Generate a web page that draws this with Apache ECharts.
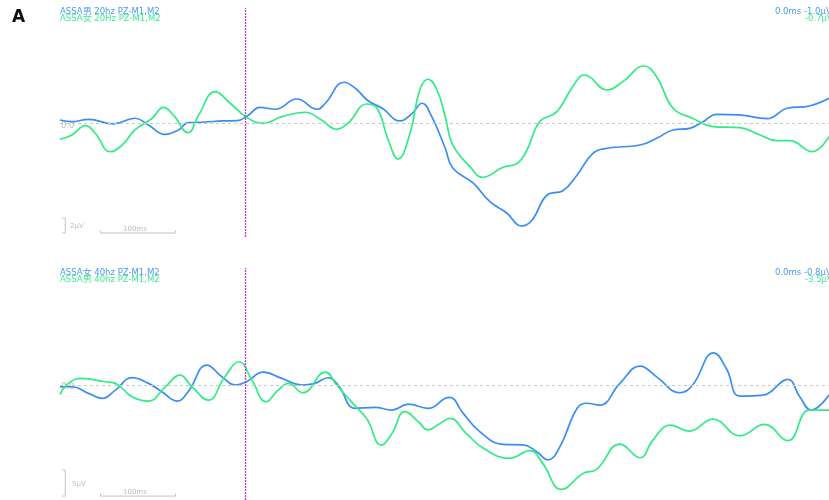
<!DOCTYPE html>
<html><head><meta charset="utf-8">
<script src="https://cdn.jsdelivr.net/npm/echarts@6/dist/echarts.min.js"></script>
<style>html,body{margin:0;padding:0;background:#fff}#c{width:829px;height:500px}</style>
</head><body><div id="c"></div>
<script>
// time (ms), amplitude (μV)
const topBlue = [[-247,0.4],[-231,0.17],[-209,0.49],[-176,-0.13],[-147,0.63],[-129,-0.27],[-107,-1.51],[-89,-0.93],[-76,0.04],[-53,0.13],[-31,0.27],[-11,0.31],[3,0.93],[20,2.09],[40,1.83],[69,3.2],[96,1.83],[107,2.63],[132,5.43],[147,4.63],[164,2.97],[183,1.96],[207,0.27],[223,1.29],[236,2.63],[249,0.84],[267,-3.37],[277,-6.0],[304,-8.0],[327,-10.53],[349,-12.0],[369,-13.73],[383,-12.93],[403,-9.6],[424,-9.03],[443,-6.93],[464,-4.04],[483,-3.37],[527,-2.93],[549,-2.04],[571,-0.93],[593,-0.71],[611,0.17],[629,1.16],[660,1.07],[696,0.57],[723,1.96],[753,2.27],[779,3.29]];
const topGreen = [[-247,-2.17],[-231,-1.6],[-213,-0.36],[-200,-1.37],[-180,-3.83],[-164,-2.93],[-147,-0.93],[-124,0.63],[-109,2.09],[-96,1.07],[-76,-1.29],[-62,1.07],[-40,4.17],[-20,2.63],[2,0.76],[24,-0.04],[49,0.84],[80,1.43],[102,0.4],[122,-0.84],[138,0.04],[162,2.53],[176,1.96],[191,-2.27],[204,-4.8],[220,-1.37],[233,4.4],[244,5.83],[256,4.4],[267,0.84],[277,-2.93],[300,-5.82],[317,-7.24],[344,-5.91],[363,-5.38],[376,-3.6],[393,0.17],[416,1.51],[437,4.84],[453,6.4],[483,4.4],[504,5.51],[532,7.6],[549,6.17],[571,1.96],[597,0.63],[624,-0.49],[660,-0.63],[687,-1.6],[709,-2.36],[727,-2.36],[756,-3.83],[779,-1.83]];
const botBlue = [[-247,-0.23],[-231,-0.23],[-209,-1.5],[-191,-2.46],[-173,-0.87],[-151,1.52],[-129,0.42],[-111,-1.19],[-91,-2.98],[-76,-1.19],[-51,3.94],[-31,1.69],[-13,0.1],[2,0.73],[24,2.6],[49,1.38],[76,0.1],[93,0.42],[111,1.5],[124,0.1],[147,-4.38],[173,-4.19],[196,-4.71],[218,-3.56],[244,-4.38],[267,-2.46],[273,-2.27],[291,-5.35],[313,-8.86],[344,-11.29],[371,-11.4],[389,-12.71],[404,-14.29],[420,-11.73],[443,-4.36],[456,-3.4],[473,-3.75],[500,0.42],[527,3.75],[549,1.67],[580,-1.38],[597,0.1],[625,6.3],[642,3.29],[660,-2.02],[691,-1.83],[724,1.19],[740,-2.15],[755,-4.71],[779,-1.83]];
const botGreen = [[-247,-1.69],[-236,0.42],[-218,1.38],[-187,0.73],[-173,0.42],[-151,-2.15],[-129,-2.98],[-107,-0.35],[-87,2.02],[-71,-0.23],[-49,-2.79],[-27,1.69],[-8,4.58],[9,1.06],[28,-3.11],[44,-0.87],[58,0.42],[77,-1.38],[107,2.6],[122,0.1],[147,-3.94],[162,-6.31],[182,-11.44],[196,-9.19],[213,-5.0],[231,-6.92],[244,-8.52],[260,-7.27],[273,-6.31],[295,-9.19],[318,-12.07],[353,-13.98],[380,-12.52],[397,-14.96],[422,-19.96],[451,-16.88],[469,-16.11],[500,-11.25],[527,-13.88],[544,-10.48],[567,-7.6],[593,-8.75],[624,-6.44],[660,-9.65],[693,-7.47],[724,-10.6],[753,-4.71],[779,-4.71]];
const topLabels = ['ASSA男 20hz PZ-M1,M2', 'ASSA女 20Hz PZ-M1,M2'];
const botLabels = ['ASSA女 40hz PZ-M1,M2', 'ASSA男 40hz PZ-M1,M2'];
const topCursor = ['0.0ms -1.0μV', '-0.7μV'];
const botCursor = ['0.0ms -0.8μV', '-3.5μV'];
const timeBarMs = 100;
const topAmpBar = 2, botAmpBar = 5;

const BLUE = '#3a8ef2', GREEN = '#30ec84', PURPLE = '#c03ad0', GRAY = '#c9c9c9';
const xMin = -247, xMax = 779;
const topY = [-15.2, 15.33], botY = [-22.0, 22.6];

const tBarStart = -193;
const topBarY = -14.67, botBarY = -21.25;
const brX = -240;
function barSeries(xi, y0, amp) {
  const tick = (xi === 0 ? 0.35 : 0.5);
  return [
    {type:'line', xAxisIndex:xi, yAxisIndex:xi, symbol:'none', silent:true,
      lineStyle:{color:'#c4c4c4', width:1},
      data:[[brX-4, y0+amp],[brX, y0+amp],[brX, y0],[brX-4, y0]]},
    {type:'line', xAxisIndex:xi, yAxisIndex:xi, symbol:'none', silent:true,
      lineStyle:{color:'#c4c4c4', width:1},
      data:[[tBarStart, y0+tick],[tBarStart, y0],[tBarStart+timeBarMs, y0],[tBarStart+timeBarMs, y0+tick]]}
  ];
}

const chart = echarts.init(document.getElementById('c'), null, {renderer:'canvas'});
const F = 'DejaVu Sans';
function txt(x, y, s, color, size, extra) {
  return {type:'text', left:x, top:y, silent:true,
    style:{text:s, fill:color, font:(extra||'') + ' ' + size + 'px "' + F + '"'}};
}
function guides() {
  return {silent:true, symbol:'none', label:{show:false}, animation:false,
    data:[{yAxis:0, lineStyle:{color:GRAY, type:[3,3], width:1.2}},
          {xAxis:0, lineStyle:{color:PURPLE, type:[2,1], width:1.3}}]};
}
chart.setOption({
  animation:false,
  backgroundColor:'#fff',
  grid:[
    {left:60, right:0, top:8, height:229},
    {left:60, right:0, top:268, height:232}
  ],
  xAxis:[
    {gridIndex:0, type:'value', min:xMin, max:xMax, show:false},
    {gridIndex:1, type:'value', min:xMin, max:xMax, show:false}
  ],
  yAxis:[
    {gridIndex:0, type:'value', min:topY[0], max:topY[1], show:false},
    {gridIndex:1, type:'value', min:botY[0], max:botY[1], show:false}
  ],
  series:[
    {type:'line', xAxisIndex:0, yAxisIndex:0, data:[], symbol:'none', color:PURPLE, markLine:guides()},
    {type:'line', xAxisIndex:1, yAxisIndex:1, data:[], symbol:'none', color:PURPLE, markLine:guides()},
    {type:'line', xAxisIndex:0, yAxisIndex:0, data:topBlue, symbol:'none', smooth:0.45, lineStyle:{color:BLUE, width:1.7}},
    {type:'line', xAxisIndex:0, yAxisIndex:0, data:topGreen, symbol:'none', smooth:0.45, lineStyle:{color:GREEN, width:1.7}},
    {type:'line', xAxisIndex:1, yAxisIndex:1, data:botBlue, symbol:'none', smooth:0.45, lineStyle:{color:BLUE, width:1.7}},
    {type:'line', xAxisIndex:1, yAxisIndex:1, data:botGreen, symbol:'none', smooth:0.45, lineStyle:{color:GREEN, width:1.7}},
    ...barSeries(0, topBarY, topAmpBar),
    ...barSeries(1, botBarY, botAmpBar)
  ],
  graphic:[
    txt(12, 9, 'A', '#111', 17, 'bold'),
    txt(60, 7, topLabels[0], '#4a98f8', 8.5),
    txt(60, 14, topLabels[1], '#3aee8c', 8.5),
    txt(775, 7, topCursor[0], '#4a98f8', 8.5),
    txt(805, 14, topCursor[1], '#3aee8c', 8.5),
    txt(60, 268, botLabels[0], '#4a98f8', 8.5),
    txt(60, 275, botLabels[1], '#3aee8c', 8.5),
    txt(775, 268, botCursor[0], '#4a98f8', 8.5),
    txt(805, 275, botCursor[1], '#3aee8c', 8.5),
    txt(61, 121, '0.0', '#b8b8b8', 8.5),
    txt(61, 382, '0.0', '#b8b8b8', 8.5),
    txt(70, 223, topAmpBar + 'μV', '#bdbdbd', 7),
    txt(123, 226, timeBarMs + 'ms', '#bdbdbd', 7),
    txt(72, 481, botAmpBar + 'μV', '#bdbdbd', 7),
    txt(123, 489, timeBarMs + 'ms', '#bdbdbd', 7)
  ]
});
</script></body></html>
